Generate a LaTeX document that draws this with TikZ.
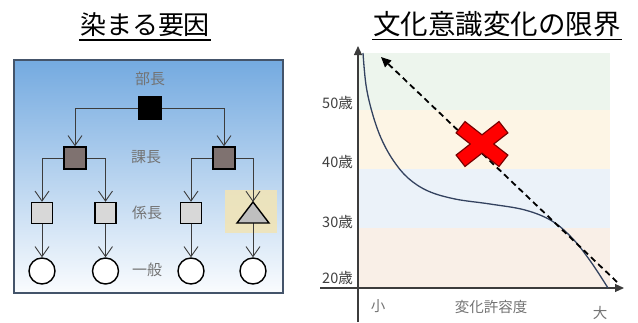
\documentclass[tikz,border=0pt]{standalone}
\usepackage{fontspec}
\setmainfont{Noto Sans CJK JP}
\usetikzlibrary{arrows.meta}
\definecolor{boxtop}{RGB}{116,170,224}
\definecolor{boxbot}{RGB}{250,252,254}
\definecolor{boxborder}{RGB}{68,84,106}
\definecolor{linegray}{RGB}{60,60,60}
\definecolor{labgray}{RGB}{115,115,115}
\definecolor{kacho}{RGB}{127,114,112}
\definecolor{kakari}{RGB}{216,216,216}
\definecolor{trifill}{RGB}{191,191,191}
\definecolor{hilite}{RGB}{240,228,184}
\definecolor{bandA}{RGB}{237,245,237}
\definecolor{bandB}{RGB}{253,245,229}
\definecolor{bandC}{RGB}{235,242,249}
\definecolor{bandD}{RGB}{249,239,231}
\definecolor{curve}{RGB}{51,66,95}
\definecolor{axlab}{RGB}{63,63,63}
\definecolor{xred}{RGB}{255,0,0}
\definecolor{xedge}{RGB}{120,0,0}
\tikzset{
  title/.style={font=\fontsize{26}{30}\selectfont, inner sep=0pt},
  lvl/.style={font=\fontsize{15}{17}\selectfont, text=labgray},
  bosssq/.style={rectangle, fill=black, draw=black, line width=1.2pt, minimum size=23pt, inner sep=0pt},
  kasq/.style={rectangle, fill=kacho, draw=black, line width=1.4pt, minimum size=22pt, inner sep=0pt},
  kksq/.style={rectangle, fill=kakari, draw=black, line width=1.4pt, minimum size=21pt, inner sep=0pt},
  ippan/.style={circle, fill=white, draw=black, line width=1.4pt, minimum size=26pt, inner sep=0pt},
  conn/.style={draw=linegray, line width=0.9pt, -{Straight Barb[length=10pt,width=14pt,line width=0.9pt]}},
  axis/.style={draw=linegray, line width=1.1pt, -{Triangle[length=9pt,width=8pt]}},
  ylab/.style={font=\fontsize{14.5}{17}\selectfont, text=axlab, anchor=east, inner sep=0pt},
  xlab/.style={font=\fontsize{14.5}{17}\selectfont, text=labgray},
  dasharr/.style={draw=black, line width=1.8pt, dash pattern=on 6pt off 4pt, -{Triangle[length=10pt,width=9pt]}},
  xarm/.style={rectangle, minimum width=53pt, minimum height=13pt, inner sep=0pt}
}
\begin{document}
\begin{tikzpicture}[x=1pt,y=-1pt]
\useasboundingbox (0,0) rectangle (638,322);

% ---------- left titles ----------
\node[title] (t1) at (145,25) {染まる要因};
\draw[line width=1.5pt] ([xshift=-1pt,yshift=-5pt]t1.base west) -- ([xshift=1pt,yshift=-5pt]t1.base east);

% background box
\shadedraw[draw=boxborder, line width=1.5pt, top color=boxtop, bottom color=boxbot] (14,60) rectangle (283,293);
\fill[hilite, opacity=0.9] (225,190) rectangle (277,233);

% level labels
\node[lvl] (lb) at (150,79) {部長};
\node[lvl] (lk) at (146,157) {課長};
\node[lvl] (lg) at (147,213) {係長};
\node[lvl] (li) at (147,270) {一般};

% nodes
\node[bosssq] (b) at (150,108) {};
\node[kasq] (k1) at (75,158) {};
\node[kasq] (k2) at (224,158) {};
\node[kksq] (s1) at (42,213) {};
\node[kksq] (s2) at (105.5,213) {};
\node[kksq] (s3) at (191,213) {};
\coordinate (tri) at (253,202);
\coordinate (trib) at (253,223);
\node[ippan] (c1) at (42,271) {};
\node[ippan] (c2) at (105.5,271) {};
\node[ippan] (c3) at (191,271) {};
\node[ippan] (c4) at (253,271) {};

% connectors
\draw[conn] (b.west) -| (k1.north);
\draw[conn] (b.east) -| (k2.north);
\draw[conn] (k1.west) -| (s1.north);
\draw[conn] (k1.east) -| (s2.north);
\draw[conn] (k2.west) -| (s3.north);
\draw[conn] (k2.east) -| (tri);
\draw[conn] (s1.south) -- (c1.north);
\draw[conn] (s2.south) -- (c2.north);
\draw[conn] (s3.south) -- (c3.north);
\draw[conn] (trib) -- (c4.north);

% triangle
\draw[fill=trifill, draw=black, line width=1.4pt, line join=miter] (237,223) -- (tri) -- (269,223) -- cycle;

% ---------- right ----------
\node[title, font=\fontsize{27.5}{32}\selectfont] (t2) at (497,24) {文化意識変化の限界};
\draw[line width=1.5pt] ([xshift=-1pt,yshift=-5pt]t2.base west) -- ([xshift=1pt,yshift=-5pt]t2.base east);

\fill[bandA] (358,53) rectangle (610,110);
\fill[bandB] (358,110) rectangle (610,169);
\fill[bandC] (358,169) rectangle (610,228);
\fill[bandD] (358,228) rectangle (610,288);

\coordinate (yb) at (358,322);
\coordinate (yt) at (358,46);
\coordinate (xl) at (320,288);
\coordinate (xr) at (624,288);
\draw[axis] (yb) -- (yt);
\draw[axis] (xl) -- (xr);

\node[ylab] (a50) at (353,103) {50歳};
\node[ylab] (a40) at (353,162) {40歳};
\node[ylab] (a30) at (353,222) {30歳};
\node[ylab] (a20) at (353,278) {20歳};

\node[xlab] (xs) at (378,306) {小};
\node[xlab] (xm) at (491,307) {変化許容度};
\node[xlab] (xb) at (600,313) {大};

\draw[curve, line width=1.3pt] plot[smooth, tension=0.6] coordinates {
  (363,53) (366,85) (372,112) (381,138) (393,160) (408,178) (428,191) (455,199) (490,204) (525,210) (552,221) (573,239) (591,262) (608,288)};

\coordinate (ds) at (617,282);
\coordinate (de) at (381,57);
\draw[dasharr] (ds) -- (de);

% red X
\begin{scope}[shift={(482,144)}]
  \node[xarm, draw=xedge, line width=2.6pt, rotate=38] (xa) at (0,0) {};
  \node[xarm, draw=xedge, line width=2.6pt, rotate=-38] (xb2) at (0,0) {};
  \node[xarm, fill=xred, rotate=38] (xa2) at (0,0) {};
  \node[xarm, fill=xred, rotate=-38] (xb3) at (0,0) {};
\end{scope}
\end{tikzpicture}
\end{document}
